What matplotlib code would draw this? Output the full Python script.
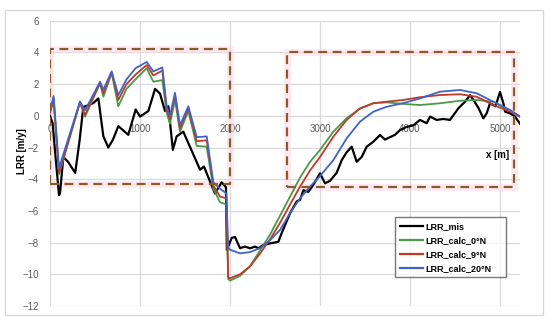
import matplotlib
matplotlib.use("Agg")
import matplotlib.pyplot as plt
from matplotlib.patches import Rectangle

x_mis = [0, 30, 60, 100, 111, 148, 200, 280, 330, 370, 481, 537, 593, 648, 700, 759, 870, 952, 1000,
         1093, 1167, 1222, 1278, 1315, 1365, 1407, 1481, 1574, 1667, 1711, 1778, 1833, 1907, 1955,
         1965, 2019, 2056, 2111, 2167, 2222, 2278, 2315, 2370, 2444, 2537, 2574, 2667, 2741, 2778,
         2815, 2870, 2926, 3000, 3056, 3111, 3185, 3241, 3296, 3352, 3407, 3463, 3519, 3593, 3667,
         3722, 3833, 3889, 3963, 4037, 4111, 4185, 4222, 4296, 4370, 4444, 4537, 4611, 4667, 4704,
         4760, 4815, 4852, 4889, 4950, 5000, 5037, 5056, 5111, 5167, 5222]
y_mis = [0.0, -0.5, -2.5, -5.0, -4.9, -2.6, -2.9, -3.6, -1.5, 0.55, 0.8, 1.1, -1.3, -2.0, -1.5, -0.65,
         -1.2, 0.4, -0.05, 0.3, 1.7, 1.4, 0.3, 0.6, -2.15, -1.3, -1.0, -2.2, -3.4, -3.2, -4.15, -4.9,
         -4.2, -4.5, -8.45, -7.7, -7.65, -8.35, -8.25, -8.36, -8.25, -8.36, -8.15, -8.05, -7.95, -7.4,
         -6.15, -5.4, -5.3, -4.7, -4.8, -4.35, -3.63, -4.26, -4.1, -3.6, -2.8, -2.3, -1.95, -2.9, -2.6,
         -1.95, -1.63, -1.21, -1.5, -1.2, -0.9, -0.7, -0.6, -0.26, -0.47, -0.05, -0.26, -0.2, -0.26,
         0.47, 0.89, 1.3, 1.0, 0.5, -0.16, 0.16, 0.79, 0.6, 1.5, 0.79, 0.26, 0.16, -0.05, -0.5]

# calculated rates (0, 9 and 20 deg N)
x_calc = [0, 40, 100, 333, 389, 556, 593, 685, 759, 850, 950, 1074, 1148, 1248, 1296, 1333, 1389,
          1444, 1537, 1630, 1741, 1815, 1889, 1960, 1980, 2000, 2111, 2222, 2333, 2444, 2556, 2667,
          2778, 2889, 3000, 3148, 3296, 3444, 3593, 3741, 3926, 4111, 4333, 4556, 4741, 4926, 5111,
          5222]
y_0N = [0.2, 1.0, -3.7, 0.85, -0.05, 2.05, 1.2, 2.7, 0.6, 1.7, 2.3, 3.0, 2.15, 2.25, 0.2, -0.5, 1.0,
        -1.0, 0.3, -1.9, -1.95, -4.6, -5.45, -5.6, -10.3, -10.4, -10.1, -9.5, -8.5, -7.5, -6.3, -5.1,
        -3.9, -2.9, -2.16, -1.0, -0.15, 0.45, 0.8, 0.85, 0.75, 0.68, 0.79, 0.95, 1.0, 0.89, 0.3,
        -0.05]
y_9N = [0.2, 1.1, -3.6, 0.85, 0.05, 2.1, 1.4, 2.75, 1.0, 2.0, 2.6, 3.2, 2.55, 2.85, 0.4, -0.2, 1.3,
        -0.8, 0.45, -1.6, -1.55, -4.4, -5.1, -5.2, -10.2, -10.25, -10.0, -9.5, -8.7, -7.8, -6.75, -5.6,
        -4.47, -3.45, -2.6, -1.32, -0.26, 0.47, 0.79, 0.89, 1.0, 1.17, 1.31, 1.36, 1.2, 0.68, 0.26,
        -0.05]
y_20N = [0.3, 1.25, -3.3, 0.9, 0.35, 2.15, 1.65, 2.8, 1.3, 2.3, 3.0, 3.4, 2.8, 3.05, 0.6, 0.0, 1.45,
         -0.6, 0.6, -1.35, -1.3, -4.2, -4.6, -4.9, -8.3, -8.45, -8.68, -8.6, -8.35, -7.85, -7.2, -6.15,
         -5.2, -4.47, -3.8, -2.8, -1.42, -0.37, 0.26, 0.57, 0.8, 1.1, 1.52, 1.63, 1.42, 0.89, 0.37,
         -0.05]

x_ticks = [0, 1000, 2000, 3000, 4000, 5000]
y_ticks = [-12, -10, -8, -6, -4, -2, 0, 2, 4, 6]

# dashed boxes: (x0, x1, y0, y1)
box_left = (0, 2000, -4.28, 4.21)
box_right = (2630, 5156, -4.49, 4.0)

grey = "#595959"

fig = plt.figure(figsize=(5.5, 3.22), dpi=100)
plt.rcParams["font.family"] = ["Liberation Sans", "DejaVu Sans"]

# light frame around the whole chart (excel chart area)
fig.patches.append(Rectangle((5 / 550, 1 - 315 / 322), 538 / 550, 305 / 322,
                             transform=fig.transFigure, fill=False, edgecolor="#d9d9d9", lw=1))

ax = fig.add_axes([50 / 550, 1 - 306 / 322, 470 / 550, 285.3 / 322])
ax.set_xlim(0, 5222)
ax.set_ylim(-12, 6)

for s in ["top", "right", "left"]:
    ax.spines[s].set_visible(False)
ax.spines["bottom"].set_position(("data", 0))
ax.spines["bottom"].set_color("#d9d9d9")

ax.set_xticks(x_ticks)
ax.set_yticks(y_ticks)
ax.tick_params(length=0, labelsize=7, labelcolor=grey)
ax.tick_params(axis="x", pad=6)
ax.tick_params(axis="y", pad=8)
ax.grid(True, color="#d9d9d9", lw=0.9)
ax.set_axisbelow(True)

ax.plot(x_mis, y_mis, color="black", lw=1.6, label="LRR_mis", zorder=3)
ax.plot(x_calc, y_0N, color="#4a9a4a", lw=1.3, label="LRR_calc_0°N", zorder=3)
ax.plot(x_calc, y_9N, color="#c0392b", lw=1.3, label="LRR_calc_9°N", zorder=3)
ax.plot(x_calc, y_20N, color="#3f63c8", lw=1.3, label="LRR_calc_20°N", zorder=3)

for x0, x1, y0, y1 in [box_left, box_right]:
    bx = [x0, x1, x1, x0, x0]
    by = [y0, y0, y1, y1, y0]
    ax.plot(bx, by, color="#ffd6e6", lw=5, alpha=0.5, zorder=2, solid_joinstyle="miter")
    ax.plot(bx, by, color="#8b5a2b", lw=1.6, ls=(0, (4, 2.5)), zorder=4)

ax.text(-315, -2.2, "LRR [m/y]", rotation=90, fontsize=7, fontweight="bold",
        ha="center", va="center", color="black")
ax.text(4978, -2.47, "x [m]", fontsize=7, fontweight="bold", ha="center", va="center")

leg = ax.legend(loc="lower left", bbox_to_anchor=(0.725, 0.085, 0.254, 0.209), mode="expand",
                fontsize=6.5, frameon=True, fancybox=False, handlelength=2.6, handletextpad=0.2,
                borderpad=0.5, labelspacing=0.55, prop={"weight": "bold", "size": 6.5})
leg.get_frame().set_edgecolor(grey)
leg.get_frame().set_linewidth(1)
for h in leg.get_lines():
    h.set_linewidth(1.6)

fig.savefig("out.png", dpi=100)
